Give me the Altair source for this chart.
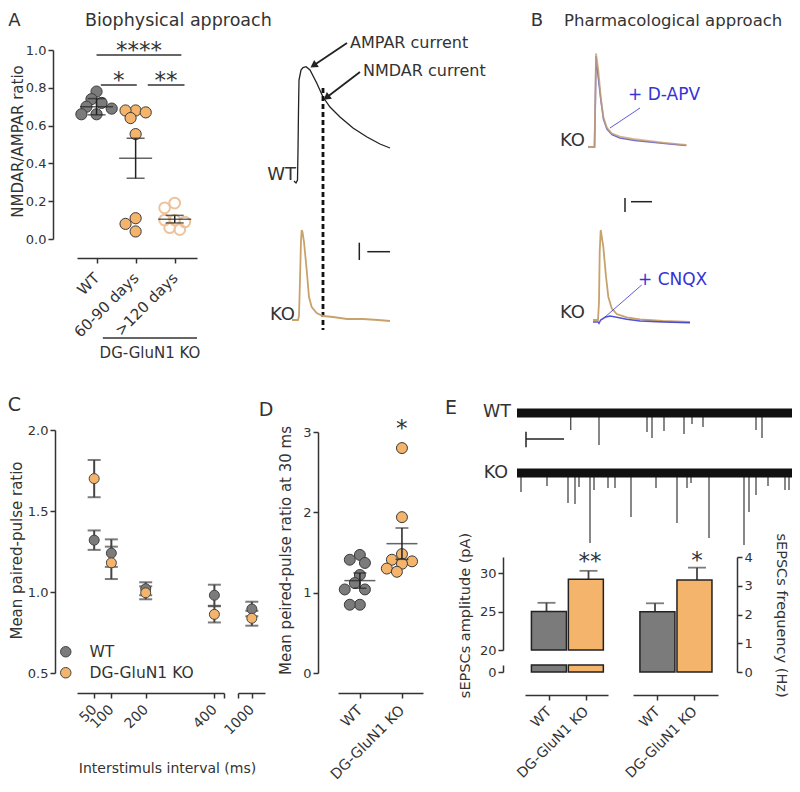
import json
import altair as alt
import pandas as pd

W, H = 784, 776
FONT = "DejaVu Sans"
INK = "#333333"
DARK = "#222222"
GREY = "#7b7b7b"
ORANGE = "#f5b46b"
PALE = "#eec39b"
TAN = "#c9a26b"
BLUE = "#3434d6"
SPIKE = "#555555"

# ---------------- Panel A : NMDAR/AMPAR ratio ----------------
A_groups = ["WT", "60-90 days", ">120 days"]
A_wt = [0.78, 0.74, 0.72, 0.70, 0.69, 0.66, 0.66]
A_6090 = [0.68, 0.68, 0.67, 0.64, 0.555, 0.11, 0.08, 0.04]
A_120 = [0.19, 0.165, 0.10, 0.10, 0.09, 0.06, 0.05]
A_mean = [0.70, 0.427, 0.105]
A_sem = [0.043, 0.106, 0.02]
A_sig_x1 = [0.0, 0.11, 1.31]
A_sig_x2 = [2.17, 1.03, 2.25]
A_sig_y = [0.973, 0.815, 0.815]
A_sig_stars = ["****", "*", "**"]

# Panel A traces (time / current, arbitrary units)
A_wt_t = [0, 2, 3.5, 4, 4.5, 5, 7, 9, 12, 16, 22.7, 29, 36, 46, 59, 73, 86, 96]
A_wt_i = [3, 1, 4, 34, 74, 104, 114, 116.5, 117.3, 114, 101, 87, 77, 67, 56, 47, 40, 36]
A_ko_t = [-2, 4, 5, 6, 7, 7.7, 8.5, 10, 12.7, 15, 17.7, 22.7, 29, 39, 53, 69, 84, 96]
A_ko_i = [0, 0, 4, 40, 80, 90, 88, 78, 50, 23, 13, 7, 4, 3, 1, 1, 0, -1]

# ---------------- Panel B traces ----------------
B1_ko_t = [0, 5, 6.5, 7.5, 8, 10.3, 12.7, 15.3, 18.7, 23.7, 32, 45, 58.7, 75, 95, 98.7]
B1_ko_i = [0, 0, 0, 60, 93.7, 77, 50.3, 30.3, 19.7, 13.7, 10.3, 8, 6.3, 4.3, 2.3, 2]
B1_apv_t = [0, 5, 6.5, 7.5, 8, 10, 13, 15.5, 19, 24, 32, 47, 62, 77, 98]
B1_apv_i = [0, 0, 0, 55, 91, 72, 46, 28, 18, 12.5, 9, 6.5, 5, 3.5, 1.5]
B2_ko_t = [5, 10, 11, 11.7, 12.7, 15.3, 18, 20.3, 23.7, 28.7, 38.7, 52, 75, 102]
B2_ko_i = [2, 2, 20, 70, 92, 75.3, 45.3, 25.3, 13.7, 8, 4.7, 2.7, 1, 0]
B2_cnqx_t = [5, 10, 11, 12.7, 17, 22, 28.7, 38.7, 52, 75, 102]
B2_cnqx_i = [0, 0, -1.3, 2, 4.7, 6, 4.7, 2.7, 1, 0, -0.7]

# ---------------- Panel C : paired-pulse ratio ----------------
C_interval = [50, 100, 200, 400, 1000]
C_wt_mean = [1.32, 1.24, 1.02, 0.98, 0.895]
C_wt_sem = [0.06, 0.085, 0.04, 0.065, 0.045]
C_ko_mean = [1.70, 1.18, 0.995, 0.862, 0.838]
C_ko_sem = [0.115, 0.10, 0.04, 0.05, 0.046]
C_groups = ["WT", "DG-GluN1 KO"]

# ---------------- Panel D ----------------
D_groups = ["WT", "DG-GluN1 KO"]
D_wt = [1.47, 1.41, 1.37, 1.22, 1.12, 1.04, 1.04, 0.85, 0.85]
D_ko = [2.80, 1.94, 1.48, 1.41, 1.39, 1.36, 1.30, 1.26]
D_mean = [1.15, 1.61]
D_sem = [0.095, 0.195]

# ---------------- Panel E ----------------
E_wt_spike_t = [53.7, 82, 130, 135, 147, 167, 175, 186, 239, 245]
E_wt_spike_d = [17, 32, 19, 25, 18, 21, 11, 14, 17, 25]
E_ko_spike_t = [4, 30, 51, 58, 62, 73, 77, 91, 98, 114, 139, 160, 170, 174, 192, 227, 232, 239, 251, 268, 272]
E_ko_spike_d = [19, 13, 30, 31, 14, 70, 17, 15, 15, 44, 15, 50, 15, 10, 65, 72, 39, 22, 13, 17, 17]
E_groups = ["WT", "DG-GluN1 KO"]
E_amp_mean = [25.0, 29.2]
E_amp_sem = [1.14, 1.1]
E_freq_mean = [2.1, 3.2]
E_freq_sem = [0.29, 0.43]


# ---------------- helpers ----------------
def rng(a, b):
    return [a - 8, b - 8]


def off_left(xp):
    return -(xp - 8)


def off_bottom(yp):
    return (yp - 8) - H


def off_right(xp):
    return (xp - 8) - W


DUMMY = alt.Data(values=[{"d": 0}])


def label(text, xp, yp, size=15, color=INK, align="left", baseline="middle"):
    return alt.Chart(DUMMY).mark_text(text=text, font=FONT, fontSize=size, color=color, align=align,
                                      baseline=baseline).encode(x=alt.value(xp - 8), y=alt.value(yp - 8))


def S(domain, r):
    return alt.Scale(domain=domain, range=r, nice=False, zero=False)


def qx(field, sc, axis=None):
    return alt.X(field, type="quantitative", scale=sc, axis=axis)


def qy(field, sc, axis=None):
    return alt.Y(field, type="quantitative", scale=sc, axis=axis)


def dx(v, sc):
    return alt.XDatum(v, scale=sc, axis=None)


def dy(v, sc):
    return alt.YDatum(v, scale=sc, axis=None)


def swarm(vals, ppx, ppy, d):
    placed, out = [], []
    cands = [0.0]
    for k in range(1, 12):
        cands += [-k * d * 0.42, k * d * 0.42]
    for v in vals:
        yy = v * ppy
        for c in cands:
            if all((c - a) ** 2 + (yy - b) ** 2 >= (0.75 * d) ** 2 for a, b in placed):
                break
        placed.append((c, yy))
        out.append(c / ppx)
    return out


def cat_expr(names):
    return json.dumps(names) + "[datum.value]"


layers = []

# ================= Panel A scatter =================
A_sx = S([-0.5, 2.57], rng(77, 197))
A_sy = S([0, 1], rng(239, 50))
A_xaxis = alt.Axis(orient="bottom", offset=off_bottom(258), values=[0, 1, 2], labelExpr=cat_expr(A_groups),
                   labelAngle=-45, labelAlign="right", labelBaseline="middle", labelFontSize=15,
                   labelPadding=12, title=None)
A_yaxis = alt.Axis(orient="left", offset=off_left(53), values=[0, 0.2, 0.4, 0.6, 0.8, 1.0], format=".1f",
                   title="NMDAR/AMPAR ratio", titleX=-36, titleY=133, titleAngle=270,
                   titleAlign="center", titleBaseline="middle")

rows = []
for gi, vals in enumerate([A_wt, A_6090, A_120]):
    for v, o in zip(vals, swarm(vals, 39, 189, 12)):
        rows.append({"pos": gi + o, "val": v, "grp": A_groups[gi]})
dfA = pd.DataFrame(rows)
dfA_stats = pd.DataFrame({"pos": [0, 1, 2], "mean": A_mean, "sem": A_sem})
dfA_stats["lo"] = dfA_stats["mean"] - dfA_stats["sem"]
dfA_stats["hi"] = dfA_stats["mean"] + dfA_stats["sem"]
dfA_sig = pd.DataFrame({"x1": A_sig_x1, "x2": A_sig_x2, "y": A_sig_y, "s": A_sig_stars})
dfA_sig["mid"] = (dfA_sig["x1"] + dfA_sig["x2"]) / 2

layers += [
    alt.Chart(dfA[dfA.grp == "WT"]).mark_circle(size=125, color=GREY, stroke="#3a3a3a", strokeWidth=1, opacity=1).encode(
        x=qx("pos", A_sx, A_xaxis), y=qy("val", A_sy, A_yaxis)),
    alt.Chart(dfA[dfA.grp == "60-90 days"]).mark_circle(size=125, color=ORANGE, stroke="#3a3a3a", strokeWidth=1, opacity=1).encode(
        x=qx("pos", A_sx), y=qy("val", A_sy)),
    alt.Chart(dfA[dfA.grp == ">120 days"]).mark_point(size=115, color=PALE, strokeWidth=2, filled=False, opacity=1).encode(
        x=qx("pos", A_sx), y=qy("val", A_sy)),
    alt.Chart(dfA_stats).mark_rule(strokeWidth=1.5, color=DARK).encode(
        x=qx("pos", A_sx), y=qy("lo", A_sy), y2="hi"),
    alt.Chart(dfA_stats).mark_tick(orient="horizontal", size=18, thickness=1.5, color=DARK).encode(
        x=qx("pos", A_sx), y=qy("lo", A_sy)),
    alt.Chart(dfA_stats).mark_tick(orient="horizontal", size=18, thickness=1.5, color=DARK).encode(
        x=qx("pos", A_sx), y=qy("hi", A_sy)),
    alt.Chart(dfA_stats).mark_tick(orient="horizontal", size=33, thickness=1.5, color=DARK).encode(
        x=qx("pos", A_sx), y=qy("mean", A_sy)),
    alt.Chart(dfA_sig).mark_rule(strokeWidth=1.5, color=INK).encode(
        x=qx("x1", A_sx), x2="x2", y=qy("y", A_sy)),
    alt.Chart(dfA_sig).mark_text(font=FONT, fontSize=23, color=INK, baseline="alphabetic", dy=3).encode(
        x=qx("mid", A_sx), y=qy("y", A_sy), text="s:N"),
    alt.Chart(DUMMY).mark_rule(strokeWidth=1.5, color=INK).encode(
        x=dx(0.16, A_sx), x2=alt.X2Datum(2.57), y=dy(-0.524, A_sy)),
    label("DG-GluN1 KO", 150, 353, size=15, align="center"),
]

# ================= Panel A traces =================
A_tx = S([0, 100], rng(294, 394))
A_wy = S([0, 130], rng(184, 54))
A_ky = S([0, 130], rng(320, 190))
dfAwt = pd.DataFrame({"t": A_wt_t, "i": A_wt_i})
dfAko = pd.DataFrame({"t": A_ko_t, "i": A_ko_i})
layers += [
    alt.Chart(dfAwt).mark_line(color=DARK, strokeWidth=1.3).encode(x=qx("t", A_tx), y=qy("i", A_wy)),
    alt.Chart(DUMMY).mark_rule(color="#111111", strokeWidth=2.8, strokeDash=[5, 3]).encode(
        x=dx(29, A_tx), y=dy(96, A_wy), y2=alt.Y2Datum(-146)),
    alt.Chart(DUMMY).mark_rule(color=DARK, strokeWidth=1.8).encode(
        x=dx(53, A_tx), x2=alt.X2Datum(19.5), y=dy(141, A_wy), y2=alt.Y2Datum(118.5)),
    alt.Chart(DUMMY).mark_rule(color=DARK, strokeWidth=1.8).encode(
        x=dx(66, A_tx), x2=alt.X2Datum(32.5), y=dy(112, A_wy), y2=alt.Y2Datum(86.5)),
    alt.Chart(DUMMY).mark_point(shape="triangle-up", filled=True, size=70, angle=236, color=DARK, opacity=1).encode(
        x=dx(19.5, A_tx), y=dy(118.5, A_wy)),
    alt.Chart(DUMMY).mark_point(shape="triangle-up", filled=True, size=70, angle=233, color=DARK, opacity=1).encode(
        x=dx(32.5, A_tx), y=dy(86.5, A_wy)),
    alt.Chart(dfAko).mark_line(color=TAN, strokeWidth=1.8).encode(x=qx("t", A_tx), y=qy("i", A_ky)),
    alt.Chart(DUMMY).mark_rule(color=DARK, strokeWidth=1.5).encode(
        x=dx(65.3, A_tx), y=dy(60, A_ky), y2=alt.Y2Datum(77.3)),
    alt.Chart(DUMMY).mark_rule(color=DARK, strokeWidth=1.5).encode(
        x=dx(73.3, A_tx), x2=alt.X2Datum(96), y=dy(68.3, A_ky)),
]

# ================= Panel B traces =================
B_tx = S([0, 100], rng(588, 688))
B1_y = S([0, 100], rng(147, 47))
B2_y = S([0, 100], rng(322, 222))
layers += [
    alt.Chart(pd.DataFrame({"t": B1_apv_t, "i": B1_apv_i})).mark_line(color=BLUE, strokeWidth=1.6, opacity=0.75).encode(
        x=qx("t", B_tx), y=qy("i", B1_y)),
    alt.Chart(pd.DataFrame({"t": B1_ko_t, "i": B1_ko_i})).mark_line(color=TAN, strokeWidth=1.8, opacity=0.8).encode(
        x=qx("t", B_tx), y=qy("i", B1_y)),
    alt.Chart(DUMMY).mark_rule(color=BLUE, strokeWidth=1, opacity=0.8).encode(
        x=dx(52, B_tx), x2=alt.X2Datum(22), y=dy(39, B1_y), y2=alt.Y2Datum(19)),
    alt.Chart(DUMMY).mark_rule(color=DARK, strokeWidth=1.5).encode(
        x=dx(37, B_tx), y=dy(-51, B1_y), y2=alt.Y2Datum(-65)),
    alt.Chart(DUMMY).mark_rule(color=DARK, strokeWidth=1.5).encode(
        x=dx(43, B_tx), x2=alt.X2Datum(64), y=dy(-54.7, B1_y)),
    alt.Chart(pd.DataFrame({"t": B2_ko_t, "i": B2_ko_i})).mark_line(color=TAN, strokeWidth=1.8).encode(
        x=qx("t", B_tx), y=qy("i", B2_y)),
    alt.Chart(pd.DataFrame({"t": B2_cnqx_t, "i": B2_cnqx_i})).mark_line(color=BLUE, strokeWidth=1.5, opacity=0.85).encode(
        x=qx("t", B_tx), y=qy("i", B2_y)),
    alt.Chart(DUMMY).mark_rule(color=BLUE, strokeWidth=1, opacity=0.8).encode(
        x=dx(53.7, B_tx), x2=alt.X2Datum(17), y=dy(37, B2_y), y2=alt.Y2Datum(5)),
]

# ================= Panel C =================
dfC = pd.DataFrame({
    "interval": C_interval * 2,
    "grp": [C_groups[0]] * len(C_interval) + [C_groups[1]] * len(C_interval),
    "mean": C_wt_mean + C_ko_mean,
    "sem": C_wt_sem + C_ko_sem,
})
dfC["lo"] = dfC["mean"] - dfC["sem"]
dfC["hi"] = dfC["mean"] + dfC["sem"]
C_sy = S([0.5, 2.0], rng(673, 430))
C_sx1 = S([0, 428], rng(77, 224))
C_sx2 = S([895, 1100], rng(238, 265))
C_yaxis = alt.Axis(orient="left", offset=off_left(55), values=[0.5, 1.0, 1.5, 2.0], format=".1f",
                   title="Mean paired-pulse ratio", titleX=-39, titleY=542, titleAngle=270,
                   titleAlign="center", titleBaseline="middle")
C_xaxis1 = alt.Axis(orient="bottom", offset=off_bottom(693), values=[50, 100, 200, 400, 428], format="d",
                    labelExpr="datum.value > 420 ? '' : datum.label", labelAngle=-45, labelAlign="right",
                    labelBaseline="middle", labelFontSize=14, labelPadding=9,
                    title="Interstimuls interval (ms)", titleX=159, titleY=75, titleFontSize=14,
                    titleAlign="center", titleBaseline="middle")
C_xaxis2 = alt.Axis(orient="bottom", offset=off_bottom(693), values=[895, 1000], format="d",
                    labelExpr="datum.value < 950 ? '' : datum.label", labelAngle=-45, labelAlign="right",
                    labelBaseline="middle", labelFontSize=14, labelPadding=9, title=None)
C_fill = alt.Scale(domain=C_groups, range=[GREY, ORANGE])


def c_panel(sx, xaxis, keep, main):
    base = alt.Chart(dfC).transform_filter(keep)
    leg = alt.Legend(orient="none", legendX=50, legendY=636, title=None, symbolType="circle",
                     symbolSize=110, symbolStrokeColor="#444444", symbolStrokeWidth=1,
                     labelFont=FONT, labelFontSize=15.5, labelColor=INK, labelOffset=16,
                     rowPadding=4) if main else None
    return [
        base.mark_rule(strokeWidth=2, color="#444444").encode(
            x=qx("interval", sx, xaxis), y=qy("lo", C_sy, C_yaxis if main else None), y2="hi"),
        base.mark_tick(orient="horizontal", size=13, thickness=2, color="#444444").encode(
            x=qx("interval", sx), y=qy("lo", C_sy)),
        base.mark_tick(orient="horizontal", size=13, thickness=2, color="#444444").encode(
            x=qx("interval", sx), y=qy("hi", C_sy)),
        base.mark_circle(size=100, stroke="#444444", strokeWidth=1, opacity=1).encode(
            x=qx("interval", sx), y=qy("mean", C_sy),
            fill=alt.Fill("grp:N", scale=C_fill, legend=leg)),
    ]


layers += c_panel(C_sx1, C_xaxis1, "datum.interval < 900", True)
layers += c_panel(C_sx2, C_xaxis2, "datum.interval > 900", False)

# ================= Panel D =================
D_sx = S([-0.52, 1.5], rng(338, 423))
D_sy = S([0, 3], rng(673, 432))
D_xaxis = alt.Axis(orient="bottom", offset=off_bottom(693), values=[0, 1], labelExpr=cat_expr(D_groups),
                   labelAngle=-45, labelAlign="right", labelBaseline="middle", labelFontSize=14.5,
                   labelPadding=10, title=None)
D_yaxis = alt.Axis(orient="left", offset=off_left(318), values=[0, 1, 2, 3], format="d",
                   title="Mean peired-pulse ratio at 30 ms", titleX=-33, titleY=542, titleAngle=270,
                   titleAlign="center", titleBaseline="middle")
rows = []
for gi, vals in enumerate([D_wt, D_ko]):
    for v, o in zip(vals, swarm(vals, 42, 80.3, 12)):
        rows.append({"pos": gi + o, "val": v, "grp": D_groups[gi]})
dfD = pd.DataFrame(rows)
dfD_stats = pd.DataFrame({"pos": [0, 1], "mean": D_mean, "sem": D_sem})
dfD_stats["lo"] = dfD_stats["mean"] - dfD_stats["sem"]
dfD_stats["hi"] = dfD_stats["mean"] + dfD_stats["sem"]
layers += [
    alt.Chart(dfD[dfD.grp == "WT"]).mark_circle(size=120, color=GREY, stroke="#3a3a3a", strokeWidth=1, opacity=1).encode(
        x=qx("pos", D_sx, D_xaxis), y=qy("val", D_sy, D_yaxis)),
    alt.Chart(dfD[dfD.grp != "WT"]).mark_circle(size=120, color=ORANGE, stroke="#3a3a3a", strokeWidth=1, opacity=1).encode(
        x=qx("pos", D_sx), y=qy("val", D_sy)),
    alt.Chart(dfD_stats).mark_rule(strokeWidth=1.5, color=DARK).encode(
        x=qx("pos", D_sx), y=qy("lo", D_sy), y2="hi"),
    alt.Chart(dfD_stats).mark_tick(orient="horizontal", size=13, thickness=1.5, color=DARK).encode(
        x=qx("pos", D_sx), y=qy("lo", D_sy)),
    alt.Chart(dfD_stats).mark_tick(orient="horizontal", size=13, thickness=1.5, color=DARK).encode(
        x=qx("pos", D_sx), y=qy("hi", D_sy)),
    alt.Chart(dfD_stats).mark_tick(orient="horizontal", size=31, thickness=1.5, color=DARK).encode(
        x=qx("pos", D_sx), y=qy("mean", D_sy)),
]

# ================= Panel E traces =================
E_tx = S([0, 280], rng(517, 797))
E_wy = S([-100, 10], rng(513, 403))
E_ky = S([-100, 10], rng(573, 463))


def e_trace(ts, ds, sy):
    return [
        alt.Chart(pd.DataFrame({"t": ts, "d": ds})).transform_calculate(neg="-datum.d").mark_rule(
            color=SPIKE, strokeWidth=1.4).encode(x=qx("t", E_tx), y=qy("neg:Q", sy), y2=alt.Y2Datum(0)),
        alt.Chart(DUMMY).mark_rect(color="#111111").encode(
            x=dx(0, E_tx), x2=alt.X2Datum(278), y=dy(-4.5, sy), y2=alt.Y2Datum(4.5)),
    ]


layers += e_trace(E_wt_spike_t, E_wt_spike_d, E_wy)
layers += e_trace(E_ko_spike_t, E_ko_spike_d, E_ky)
layers += [
    alt.Chart(DUMMY).mark_rule(color=DARK, strokeWidth=1.5).encode(
        x=dx(9, E_tx), y=dy(-18.7, E_wy), y2=alt.Y2Datum(-34.3)),
    alt.Chart(DUMMY).mark_rule(color=DARK, strokeWidth=1.5).encode(
        x=dx(9, E_tx), x2=alt.X2Datum(47), y=dy(-26, E_wy)),
]

# ================= Panel E bars =================
E_fill = alt.Scale(domain=E_groups, range=[GREY, ORANGE])
dfE = pd.DataFrame({"pos": [0, 1], "grp": E_groups, "amp": E_amp_mean, "amp_sem": E_amp_sem,
                    "freq": E_freq_mean, "freq_sem": E_freq_sem})
dfE["amp_hi"] = dfE["amp"] + dfE["amp_sem"]
dfE["freq_hi"] = dfE["freq"] + dfE["freq_sem"]

E_ax = S([-0.512, 1.464], rng(525, 608))
E_ay = S([20, 32.1], rng(650, 557))
E_ay0 = S([0, 0.9], rng(672, 665))
E_fx = S([-0.524, 1.5], rng(633, 718))
E_fy = S([0, 4], rng(672, 557))
E_xaxis_kw = dict(orient="bottom", offset=off_bottom(695), values=[0, 1], labelExpr=cat_expr(E_groups),
                  labelAngle=-45, labelAlign="right", labelBaseline="middle", labelFontSize=14,
                  labelPadding=9, title=None)
E_amp_axis = alt.Axis(orient="left", offset=off_left(503), values=[20, 25, 30], title="sEPSCs amplitude (pA)",
                      titleX=-38, titleY=607, titleAngle=270, titleAlign="center", titleBaseline="middle",
                      titleFontSize=14.5)
E_freq_axis = alt.Axis(orient="right", offset=off_right(737), values=[0, 1, 2, 3, 4], title="sEPSCs frequency (Hz)",
                       titleX=43, titleY=607, titleAngle=90, titleAlign="center", titleBaseline="middle",
                       titleFontSize=14.5)

layers += [
    alt.Chart(dfE).mark_rule(strokeWidth=1.8, color="#444444").encode(
        x=qx("pos", E_ax), y=qy("amp", E_ay), y2="amp_hi"),
    alt.Chart(dfE).mark_tick(orient="horizontal", size=18, thickness=1.8, color="#444444").encode(
        x=qx("pos", E_ax), y=qy("amp_hi", E_ay)),
    alt.Chart(dfE).mark_bar(size=35, stroke=DARK, strokeWidth=1.5).encode(
        x=qx("pos", E_ax, alt.Axis(**E_xaxis_kw)), y=qy("amp", E_ay, E_amp_axis), y2=alt.Y2Datum(20),
        fill=alt.Fill("grp:N", scale=E_fill, legend=None)),
    alt.Chart(dfE).mark_bar(size=35, stroke=DARK, strokeWidth=1.5).encode(
        x=qx("pos", E_ax),
        y=alt.YDatum(0.9, scale=E_ay0, axis=alt.Axis(orient="left", offset=off_left(503), values=[0], title=None)),
        y2=alt.Y2Datum(0),
        fill=alt.Fill("grp:N", scale=E_fill, legend=None)),
    alt.Chart(dfE).mark_rule(strokeWidth=1.8, color="#444444").encode(
        x=qx("pos", E_fx), y=qy("freq", E_fy), y2="freq_hi"),
    alt.Chart(dfE).mark_tick(orient="horizontal", size=18, thickness=1.8, color="#444444").encode(
        x=qx("pos", E_fx), y=qy("freq_hi", E_fy)),
    alt.Chart(dfE).mark_bar(size=35, stroke=DARK, strokeWidth=1.5).encode(
        x=qx("pos", E_fx, alt.Axis(**E_xaxis_kw)), y=qy("freq", E_fy, E_freq_axis),
        fill=alt.Fill("grp:N", scale=E_fill, legend=None)),
]

# ================= text labels =================
layers += [
    label("A", 14.5, 21, size=18, align="center"),
    label("Biophysical approach", 85, 21, size=17.5),
    label("B", 537, 21, size=18, align="center"),
    label("Pharmacological approach", 564, 21, size=16.5),
    label("C", 14.5, 405, size=19, align="center"),
    label("D", 266, 410, size=19, align="center"),
    label("E", 451, 408, size=19, align="center"),
    label("AMPAR current", 350, 43, size=16),
    label("NMDAR current", 363, 71, size=16),
    label("WT", 296, 175, size=18, align="right"),
    label("KO", 295, 315, size=18, align="right"),
    label("KO", 585, 141, size=18, align="right"),
    label("KO", 585, 313, size=18, align="right"),
    label("+ D-APV", 628, 95, size=17, color=BLUE),
    label("+ CNQX", 638, 280, size=17, color=BLUE),
    label("WT", 511, 412, size=17.5, align="right"),
    label("KO", 508, 473, size=17.5, align="right"),
    label("*", 401.7, 436, size=23, align="center", baseline="alphabetic"),
    label("**", 590, 569, size=23, align="center", baseline="alphabetic"),
    label("*", 697, 568, size=23, align="center", baseline="alphabetic"),
]

chart = alt.layer(*layers).resolve_scale(
    x="independent", y="independent", fill="independent"
).properties(
    width=W, height=H, autosize=alt.AutoSizeParams(type="none"), padding=0, background="white"
).configure_view(stroke=None).configure_axis(
    grid=False, domainColor=INK, tickColor=INK, labelColor=INK, titleColor=INK,
    domainWidth=1.5, tickWidth=1.5, tickSize=5, labelFont=FONT, titleFont=FONT,
    labelFontSize=13, titleFontSize=15, titleFontWeight="normal", labelOverlap=False, labelFlush=False
)

chart.save("out.html", embed_options={"renderer": "svg", "actions": False})
